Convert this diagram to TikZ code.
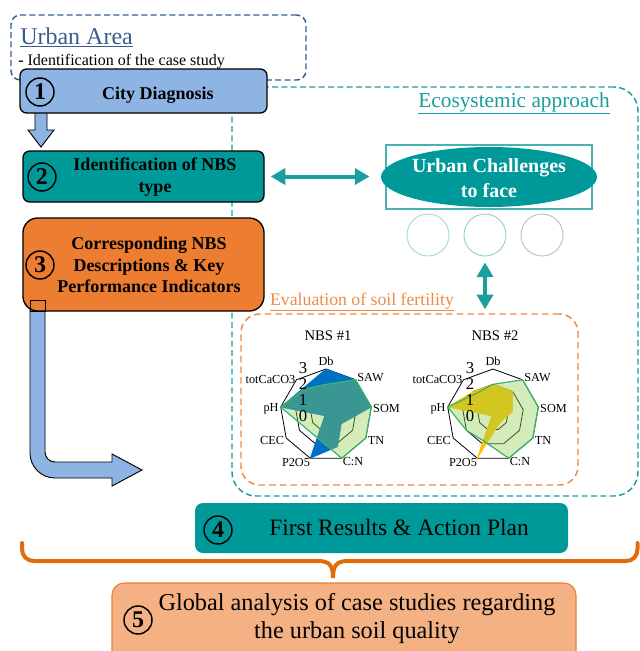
\documentclass[tikz,border=0pt]{standalone}
\usepackage{fontspec}
\setmainfont{Liberation Serif}
\usetikzlibrary{arrows.meta, shapes.geometric, positioning, calc}
\definecolor{diagblue}{HTML}{8EB4E3}
\definecolor{nbsteal}{HTML}{009999}
\definecolor{kpiorange}{HTML}{ED7D31}
\definecolor{globalorange}{HTML}{F4B183}
\definecolor{urbanblue}{HTML}{385D8A}
\definecolor{ecoteal}{HTML}{1A9E9E}
\definecolor{soilorange}{HTML}{F08A42}
\definecolor{braceorange}{HTML}{E36C0A}
\definecolor{radarblue}{HTML}{0070C0}
\definecolor{radargreen}{HTML}{92D050}
\definecolor{radarline}{HTML}{3CB371}
\definecolor{radaryellow}{HTML}{FFC000}
\newcommand\ringstep{15.333}

\begin{document}
\begin{tikzpicture}[x=0.75pt, y=-0.75pt,
	bluebox/.style={rectangle, draw, line width=1pt, rounded corners=5pt, fill=diagblue},
	tealbox/.style={rectangle, draw, line width=1pt, rounded corners=5pt, fill=nbsteal},
	orangebox/.style={rectangle, draw, line width=1pt, rounded corners=11pt, fill=kpiorange},
	resultbox/.style={rectangle, rounded corners=6pt, fill=nbsteal},
	globalbox/.style={rectangle, draw=kpiorange, line width=0.8pt, rounded corners=9pt, fill=globalorange},
	numcircle/.style={circle, draw, line width=1.1pt, minimum size=21pt, inner sep=0pt, font=\fontsize{18}{18}\selectfont\bfseries},
	boxtext/.style={align=center, font=\fontsize{13.5}{16}\selectfont\bfseries},
	dashbox/.style={rectangle, dashed, line width=1.1pt, dash pattern=on 4.5pt off 2.5pt},
	tealarrow/.style={{Triangle[length=11pt,width=12pt]}-{Triangle[length=11pt,width=12pt]}, line width=3pt, ecoteal},
	blockarrow/.style={fill=diagblue, draw, line width=0.7pt},
	challengecircle/.style={circle, minimum size=31.5pt, line width=0.7pt},
	ringline/.style={line width=0.6pt},
	axislabel/.style={inner sep=0pt, font=\fontsize{9.2}{10}\selectfont},
	every node/.style={align=center}
	]
	\useasboundingbox (0,0) rectangle (640,651);
	\clip (0,0) rectangle (640,651);

	% frames behind the steps
	\node[dashbox, draw=ecoteal, rounded corners=18pt, minimum width=304.5pt, minimum height=306.75pt] (eco) at (435,291.5) {};
	\node[dashbox, draw=urbanblue, rounded corners=7pt, minimum width=221.25pt, minimum height=48.75pt] (urban) at (158.5,47.5) {};

	% block arrows
	\draw[blockarrow] (35,112) -- (35,130) -- (28,130) -- (41,147) -- (54,130) -- (47,130) -- (47,112);
	\draw[blockarrow] (30,300) -- (30,453) .. controls (30,466.8) and (41.2,478) .. (55,478) -- (112,478) -- (112,486) -- (142,470) -- (112,454) -- (112,462) -- (55,462) .. controls (49.5,462) and (45,457.5) .. (45,452) -- (45,300) -- cycle;

	% steps 1 to 3
	\node[bluebox, minimum width=185.25pt, minimum height=33pt] (diag) at (143.5,91) {};
	\node[numcircle] (n1) at (40,92) {1};
	\node[boxtext, anchor=base] (diagtext) at (158,99) {City Diagnosis};

	\node[tealbox, minimum width=180.75pt, minimum height=38.25pt] (nbs) at (143.5,176.5) {};
	\node[numcircle] (n2) at (42,177) {2};
	\node[boxtext] (nbstext) at (155,177) {Identification of NBS\\ type};

	\node[orangebox, minimum width=180.75pt, minimum height=69.75pt] (kpi) at (143.5,264.5) {};
	\node[numcircle] (n3) at (40,265) {3};
	\node[boxtext] (kpitext) at (149,265) {Corresponding NBS\\ Descriptions \& Key\\ Performance Indicators};
	\draw[line width=0.7pt] (30,300) rectangle (45,311);

	\node[anchor=base west, inner sep=0pt, text=urbanblue, font=\fontsize{18}{20}\selectfont] (urbantitle) at (20,44) {\underline{Urban Area}};
	\node[anchor=base west, inner sep=0pt, font=\fontsize{12}{13}\selectfont] (urbansub) at (18,65) {\textbf{-} Identification of the case study};

	% ecosystemic approach
	\node[anchor=base, text=ecoteal, font=\fontsize{16}{18}\selectfont] (ecotitle) at (514,107) {\underline{Ecosystemic approach}};
	\node[rectangle, draw=ecoteal!80, line width=0.8pt, minimum width=154.5pt, minimum height=48pt] (challengebox) at (489,177) {};
	\node[ellipse, fill=nbsteal, minimum width=162pt, minimum height=45pt] (challenge) at (489,177) {};
	\node[text=white, font=\fontsize{15}{18.75}\selectfont\bfseries] (challengetext) at (489,178) {Urban Challenges\\ to face};
	\node[challengecircle, draw=ecoteal!40] (circA) at (428,235) {};
	\node[challengecircle, draw=radarline!55] (circB) at (485,235) {};
	\node[challengecircle, draw=gray!50] (circC) at (542,235) {};

	\node[anchor=base, text=soilorange, font=\fontsize{13.3}{15}\selectfont] (soiltitle) at (362,305) {\underline{Evaluation of soil fertility}};
	\node[dashbox, draw=soilorange, rounded corners=14pt, dash pattern=on 5pt off 3pt, minimum width=252.75pt, minimum height=128.25pt] (soil) at (409.5,399.5) {};

	\draw[tealarrow] ([xshift=4.5pt]nbs.east) -- ([xshift=-12pt]nbs.east -| challengebox.west);
	\draw[tealarrow] ([yshift=-4.5pt]circB.south) -- ([yshift=3pt]circB.south |- soil.north);

	% radar charts
	\foreach \cx in {326,493}{
		\begin{scope}[shift={(\cx,415)}, y=0.75pt]
			\foreach \r in {1,2,3}
				\draw[ringline] (90:{\r*\ringstep}) \foreach \a in {50,10,-30,-70,-110,-150,-190,-230} {-- (\a:{\r*\ringstep})} -- cycle;
		\end{scope}
	}
	\begin{scope}[shift={(326,415)}, y=0.75pt]
		\filldraw[radarblue, line width=0.5pt] (90:{3*\ringstep}) \foreach \v [count=\i] in {3,3,1.15,2.2,3,0.1,3,2.3} {-- ({90-40*\i}:{\v*\ringstep})} -- cycle;
		\filldraw[fill=radargreen, fill opacity=0.4, draw=radarline, line width=0.9pt] (90:{2*\ringstep}) \foreach \v [count=\i] in {3,3,3,3,1.6,1.6,3,2.2} {-- ({90-40*\i}:{\v*\ringstep})} -- cycle;
	\end{scope}
	\begin{scope}[shift={(493,415)}, y=0.75pt]
		\filldraw[radaryellow, line width=0.5pt] (90:{2*\ringstep}) \foreach \v [count=\i] in {2,1.3,0.7,0.8,3,0.1,3,2} {-- ({90-40*\i}:{\v*\ringstep})} -- cycle;
		\filldraw[fill=radargreen, fill opacity=0.4, draw=radarline, line width=0.9pt] (90:{2*\ringstep}) \foreach \v [count=\i] in {3,3,3,3,1.8,2,3,1.8} {-- ({90-40*\i}:{\v*\ringstep})} -- cycle;
	\end{scope}
	\foreach \cx/\nbsno in {326/1,493/2}{
		\begin{scope}[shift={(\cx,415)}, y=0.75pt]
			\node[anchor=base, font=\fontsize{11}{12}\selectfont] (title\nbsno) at (2,75) {NBS \#\nbsno};
			\foreach \lab/\px/\py [count=\j] in {Db/0/54, SAW/44.5/37, SOM/60.5/7, TN/50/-25, C:N/27/-47, P2O5/-30/-47, CEC/-54/-25, pH/-55/6, totCaCO3/-55.5/36}
				\node[axislabel] (axis\nbsno-\j) at (\px,\py) {\lab};
			\foreach \k in {0,...,3}
				\node[inner sep=0pt, font=\fontsize{12.5}{13}\selectfont] (scale\nbsno-\k) at (-23,{\k*16-1}) {\k};
		\end{scope}
	}

	% step 4, brace and step 5
	\node[resultbox, minimum width=279.75pt, minimum height=37.5pt] (results) at (381.5,528) {};
	\node[numcircle] (n4) at (218,530) {4};
	\node[anchor=base, font=\fontsize{17.6}{19}\selectfont] (resultstext) at (399,535) {First Results \& Action Plan};

	\draw[braceorange, line width=3pt, line cap=round] (22,543) -- (22,549) .. controls (22,556) and (27,561) .. (34,561) -- (318,561) .. controls (330,561) and (333,566) .. (333,578) .. controls (333,566) and (336,561) .. (348,561) -- (626,561) .. controls (633,561) and (637.5,556) .. (637.5,549) -- (637.5,543);

	\node[globalbox, minimum width=348pt, minimum height=65.25pt] (global) at (344,626.5) {};
	\node[numcircle] (n5) at (138,620) {5};
	\node[font=\fontsize{18.2}{21}\selectfont] (globaltext) at (357,619) {Global analysis of case studies regarding\\ the urban soil quality};
\end{tikzpicture}
\end{document}
